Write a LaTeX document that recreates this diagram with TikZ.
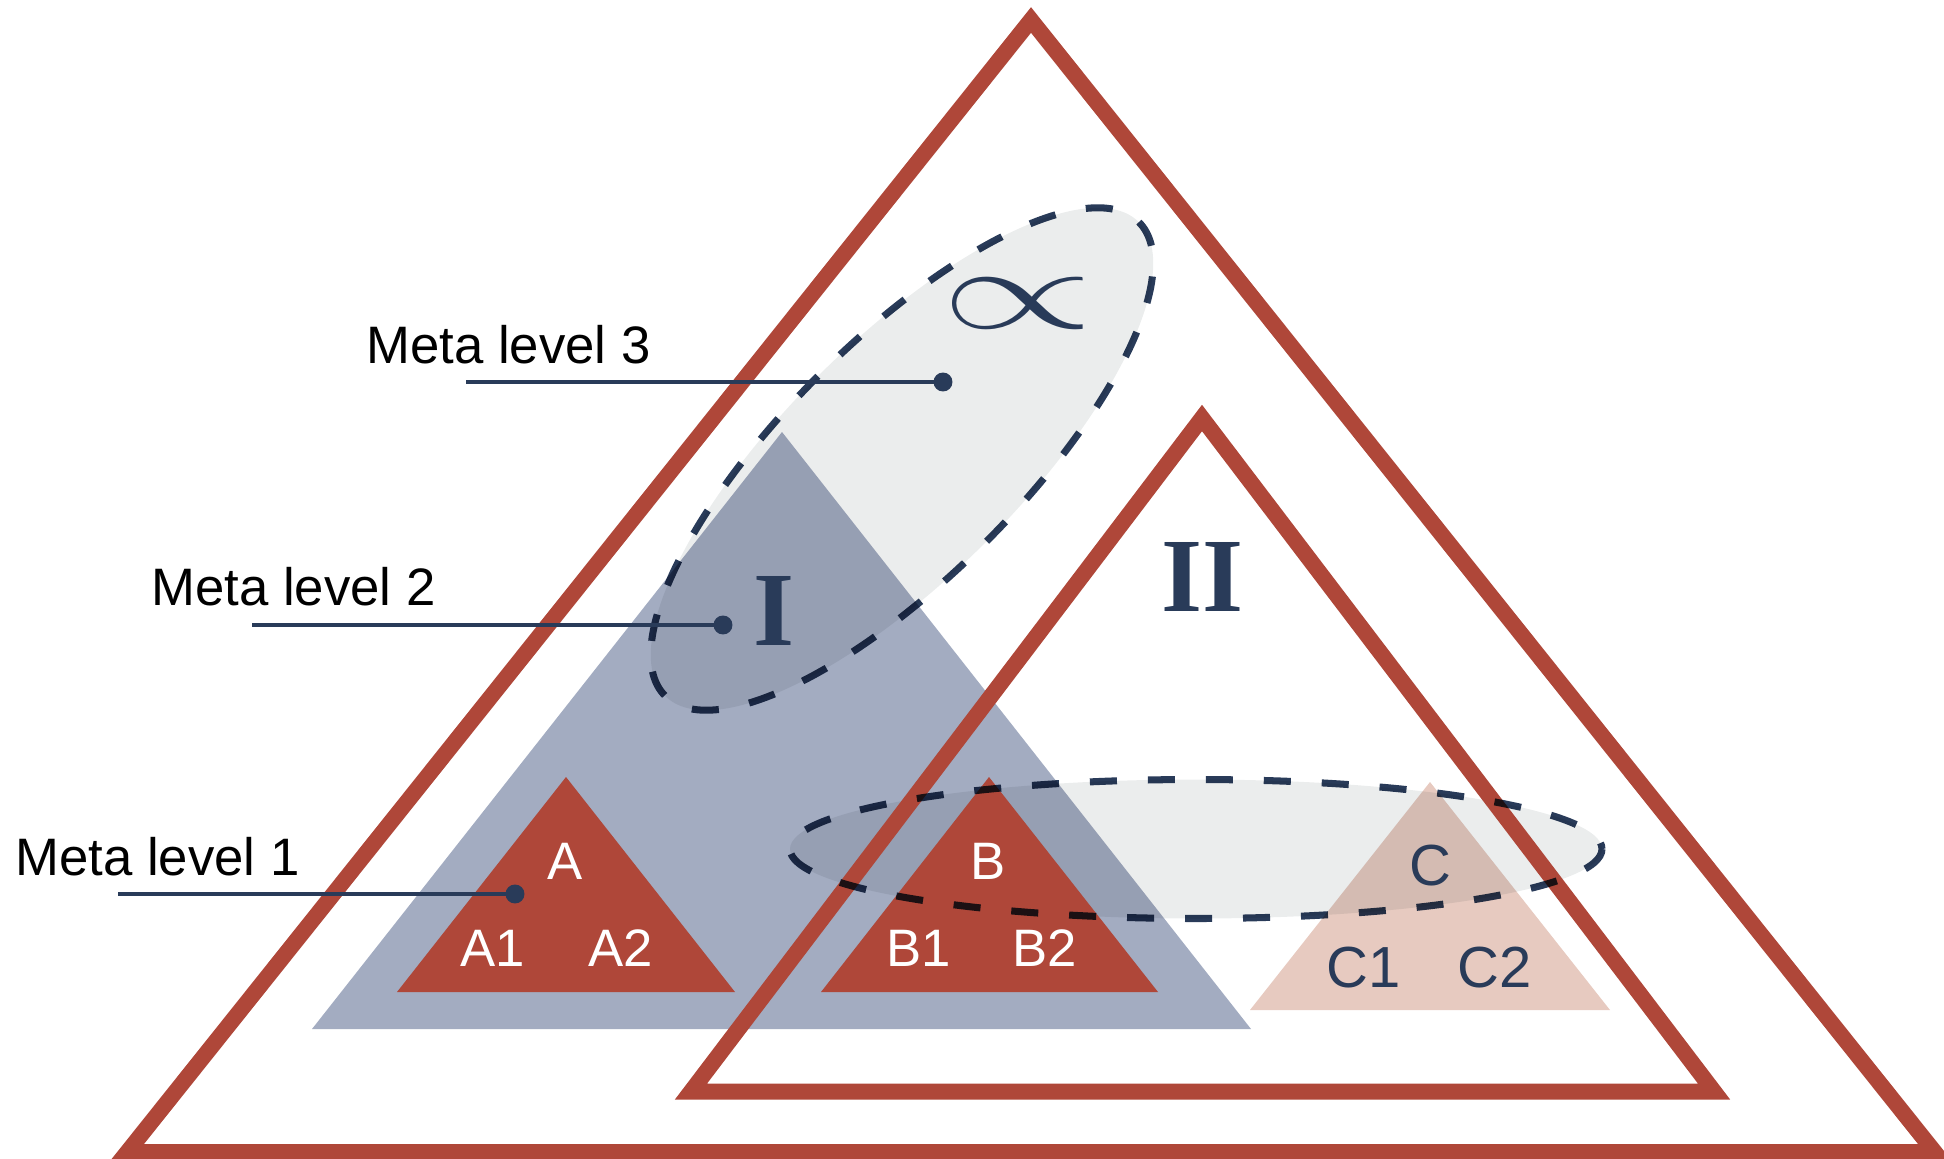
\documentclass[tikz,border=0pt]{standalone}
\usepackage{fontspec}
\usepackage{graphicx}
\newfontfamily\lblfont{Liberation Sans}
\newfontfamily\numfont{Liberation Serif}
\definecolor{rust}{RGB}{175,71,57}
\definecolor{slate}{RGB}{163,172,193}
\definecolor{mist}{RGB}{235,237,237}
\definecolor{navy}{RGB}{41,59,89}
\definecolor{blush}{RGB}{231,202,192}

\begin{document}
\begin{tikzpicture}[
  x=0.02cm, y=-0.02cm,
  frame/.style={draw=rust, line width=9.1pt, line join=miter},
  ringfill/.style={fill=mist},
  ringline/.style={draw=navy, line width=4pt,
    dash pattern=on 15.4pt off 17.6pt},
  leader/.style={draw=navy, line width=2.6pt},
  pin/.style={circle, fill=navy, inner sep=0pt, minimum size=10.8pt},
  lvl/.style={font=\lblfont\fontsize{30}{36}\selectfont,
    inner sep=0pt, anchor=base west},
  tag/.style={font=\lblfont\fontsize{30}{36}\selectfont,
    inner sep=0pt, text=white},
  ctag/.style={tag, font=\lblfont\fontsize{33}{40}\selectfont, text=navy},
  numeral/.style={font=\numfont\bfseries\fontsize{60}{72}\selectfont,
    inner sep=0pt, text=navy}
]
  \useasboundingbox (0,0) rectangle (1944,1159);
  \clip (0,0) rectangle (1944,1159);

  % level I and the pale ground triangle
  \fill[slate] (782,432) -- (1251,1029) -- (312,1029) -- cycle;
  \fill[blush] (1430,782) -- (1610,1010) -- (1250,1010) -- cycle;

  % meta rings, fill
  \begin{scope}[blend mode=multiply]
    \fill[ringfill, rotate around={45:(902,459)}] (902,459)
      ellipse [x radius=335, y radius=118];
    \fill[ringfill] (1196,849) ellipse [x radius=406, y radius=69.5];
  \end{scope}

  % frames
  \draw[frame] (1031,20) -- (1934.6,1152) -- (127.4,1152) -- cycle;
  \draw[frame] (1202,418) -- (1714,1091.5) -- (691,1091.5) -- cycle;
  % ground level
  \fill[rust] (566,777) -- (735,992) -- (397,992) -- cycle;
  \fill[rust] (989,777) -- (1158,992) -- (821,992) -- cycle;

  \node[tag] (a) at (565,861) {A};
  \node[tag] (a1) at (493,948) {A1};
  \node[tag] (a2) at (621,948) {A2};
  \node[tag] (b) at (988,861) {B};
  \node[tag] (b1) at (919,948) {B1};
  \node[tag] (b2) at (1045,948) {B2};
  \node[ctag] (c) at (1430,866) {C};
  \node[ctag] (c1) at (1364,968) {C1};
  \node[ctag] (c2) at (1495,968) {C2};

  % meta rings, outline
  \begin{scope}[blend mode=multiply]
    \draw[ringline, rotate around={45:(902,459)}] (902,459)
      ellipse [x radius=335, y radius=118];
    \draw[ringline] (1196,849) ellipse [x radius=406, y radius=69.5];
  \end{scope}

  \node[numeral] (one) at (774,611) {I};
  \node[numeral] (two) at (1203,577) {II};
  \node[inner sep=0pt, text=navy] (prop) at (1018,303)
    {\resizebox{3.05cm}{1cm}{$\propto$}};

  % leaders
  \node[lvl] (m3) at (366,363) {Meta level 3};
  \node[lvl] (m2) at (151,605) {Meta level 2};
  \node[lvl] (m1) at (15,875) {Meta level 1};
  \coordinate (l3) at (466,382);
  \coordinate (l2) at (252,625);
  \coordinate (l1) at (118,894);
  \node[pin] (p3) at (943,382) {};
  \node[pin] (p2) at (723,625) {};
  \node[pin] (p1) at (515,894) {};
  \draw[leader] (l3) -- (p3.center);
  \draw[leader] (l2) -- (p2.center);
  \draw[leader] (l1) -- (p1.center);
\end{tikzpicture}
\end{document}
